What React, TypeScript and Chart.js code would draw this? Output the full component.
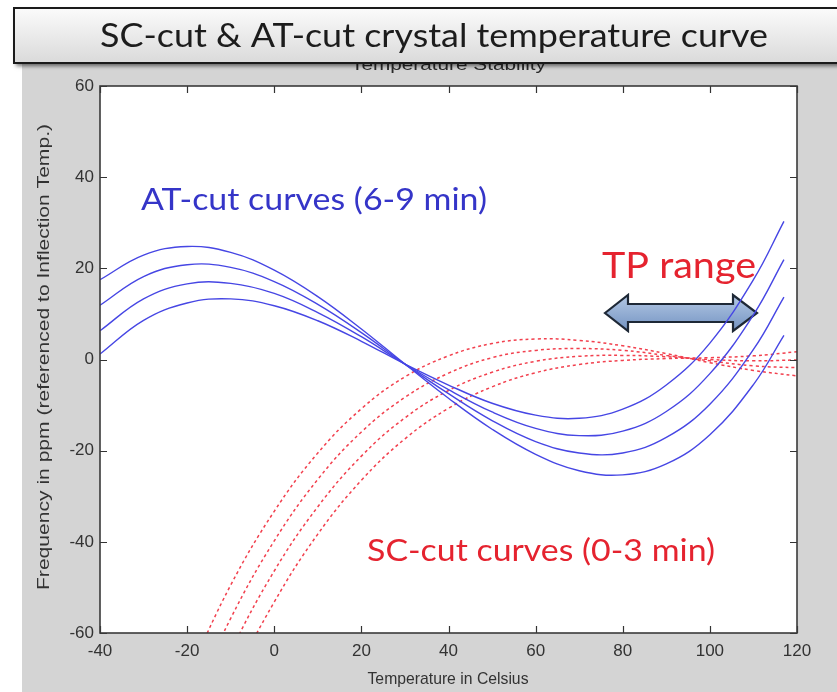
import React, { useEffect, useRef } from "react";
import { Chart, registerables } from "chart.js";

Chart.register(...registerables);

// ---------- data ----------
const tempAT = [-40, -30, -20, -10, 0, 10, 20, 30, 40, 50, 60, 70, 80, 90, 100, 110, 117];
const atCurve1 = [17.5, 22.9, 24.8, 23.5, 19.6, 13.8, 6.7, -1, -8.5, -15.3, -20.8, -24.4, -25.3, -22.9, -16.5, -5.5, 5.3];
const atCurve2 = [11.9, 18.2, 20.8, 20.2, 17.1, 12.1, 5.9, -1, -7.5, -13.4, -18.0, -20.5, -20.5, -17.1, -9.8, 2.2, 13.7];
const atCurve3 = [6.3, 13.3, 16.6, 16.7, 14.5, 10.3, 5.0, -1, -6.6, -11.5, -15.1, -16.7, -15.7, -11.4, -3.1, 9.8, 21.9];
const atCurve4 = [1.2, 8.6, 12.4, 13.3, 11.8, 8.5, 4.0, -1, -5.6, -9.6, -12.2, -12.9, -10.9, -5.6, 3.6, 17.5, 30.3];

const tempSC = [-20, -10, 0, 10, 20, 30, 40, 50, 60, 70, 80, 90, 100, 110, 120];
const scCurve1 = [-69.6, -49.5, -33.3, -20.5, -10.8, -3.8, 0.8, 3.5, 4.5, 4.2, 3.0, 1.3, -0.7, -2.4, -3.6];
const scCurve2 = [-77.5, -56.8, -39.8, -26.3, -15.9, -8.3, -3.0, 0.4, 2.0, 2.4, 2.0, 0.9, -0.3, -1.4, -1.8];
const scCurve3 = [-85.5, -64.1, -46.4, -32.3, -21.2, -12.8, -6.8, -2.8, -0.4, 0.7, 0.9, 0.6, 0.0, -0.3, -0.1];
const scCurve4 = [-93.6, -71.5, -53.2, -38.3, -26.5, -17.4, -10.7, -6.0, -2.9, -1.1, -0.2, 0.2, 0.4, 0.8, 1.7];

const xMin = -40;
const xMax = 120;
const xStep = 20;
const yMin = -60;
const yMax = 60;
const yStep = 20;

const titleText = "SC-cut & AT-cut crystal temperature curve";
const hiddenTitle = "Temperature Stability";
const xTitle = "Temperature in Celsius";
const yTitle = "Frequency in ppm (referenced to Inflection Temp.)";
const atLabel = "AT-cut curves (6-9 min)";
const scLabel = "SC-cut curves (0-3 min)";
const tpLabel = "TP range";

// ---------- layout ----------
const W = 837;
const H = 692;
const PLOT_LEFT = 100;
const PLOT_TOP = 86;
const PLOT_RIGHT = 797;
const PLOT_BOTTOM = 633;
const GRAY_LEFT = 22;
const GRAY_TOP = 56;

const BLUE = "#4646e4";
const RED = "#f2404e";
const TEXT_BLUE = "#3535c8";
const TEXT_RED = "#e5232f";
const AXIS_FONT = '"Liberation Sans", Arial, sans-serif';
const NOTE_FONT = 'Lato, "Open Sans", sans-serif';

function fitText(
  ctx: CanvasRenderingContext2D,
  text: string,
  x: number,
  y: number,
  width: number,
  font: string,
  color: string,
  align: "left" | "center" = "left"
) {
  ctx.save();
  ctx.font = font;
  ctx.fillStyle = color;
  ctx.textBaseline = "alphabetic";
  ctx.textAlign = align;
  const m = ctx.measureText(text).width;
  const sx = width / m;
  ctx.translate(x, y);
  ctx.scale(sx, 1);
  ctx.fillText(text, 0, 0);
  ctx.restore();
}

export default function App() {
  const ref = useRef<HTMLCanvasElement | null>(null);

  useEffect(() => {
    const canvas = ref.current;
    if (!canvas) return;
    const mk = (xs: number[], ys: number[]) => xs.map((x, i) => ({ x, y: ys[i] }));

    const atSets = [atCurve1, atCurve2, atCurve3, atCurve4].map((ys, i) => ({
      label: `AT-cut ${i + 1}`,
      data: mk(tempAT, ys),
      borderColor: BLUE,
      borderWidth: 1.4,
      pointRadius: 0,
      tension: 0.4,
      fill: false,
    }));
    const scSets = [scCurve1, scCurve2, scCurve3, scCurve4].map((ys, i) => ({
      label: `SC-cut ${i + 1}`,
      data: mk(tempSC, ys),
      borderColor: RED,
      borderWidth: 1.5,
      borderDash: [3, 3],
      pointRadius: 0,
      tension: 0.4,
      fill: false,
    }));

    const decor = {
      id: "decor",
      beforeDraw(chart: any) {
        const ctx = chart.ctx as CanvasRenderingContext2D;
        const a = chart.chartArea;
        ctx.save();
        ctx.fillStyle = "#ffffff";
        ctx.fillRect(0, 0, W, H);
        ctx.fillStyle = "#d4d4d4";
        ctx.fillRect(GRAY_LEFT, GRAY_TOP, W - GRAY_LEFT, H - GRAY_TOP);
        ctx.fillStyle = "#ffffff";
        ctx.fillRect(a.left, a.top, a.right - a.left, a.bottom - a.top);
        ctx.restore();
        // remnant of the original MATLAB title (mostly hidden by the banner)
        fitText(ctx, hiddenTitle, (a.left + a.right) / 2, 70, 195, `17px ${AXIS_FONT}`, "#2a2a2a", "center");
      },
      beforeDatasetsDraw(chart: any) {
        const ctx = chart.ctx as CanvasRenderingContext2D;
        // double-headed TP range arrow
        const cy = 313;
        const l = 605, lh = 628, rh = 733, r = 757;
        const hh = 18, sh = 9;
        ctx.save();
        ctx.beginPath();
        ctx.moveTo(l, cy);
        ctx.lineTo(lh, cy - hh);
        ctx.lineTo(lh, cy - sh);
        ctx.lineTo(rh, cy - sh);
        ctx.lineTo(rh, cy - hh);
        ctx.lineTo(r, cy);
        ctx.lineTo(rh, cy + hh);
        ctx.lineTo(rh, cy + sh);
        ctx.lineTo(lh, cy + sh);
        ctx.lineTo(lh, cy + hh);
        ctx.closePath();
        const g = ctx.createLinearGradient(0, cy - hh, 0, cy + hh);
        g.addColorStop(0, "#b4c8e4");
        g.addColorStop(1, "#7393c2");
        ctx.fillStyle = g;
        ctx.fill();
        ctx.lineWidth = 2.2;
        ctx.lineJoin = "miter";
        ctx.strokeStyle = "#1e2836";
        ctx.stroke();
        ctx.restore();
      },
      afterDatasetsDraw(chart: any) {
        const ctx = chart.ctx as CanvasRenderingContext2D;
        fitText(ctx, atLabel, 141, 210, 346, `30px ${NOTE_FONT}`, TEXT_BLUE);
        fitText(ctx, tpLabel, 602, 278, 154, `37px ${NOTE_FONT}`, TEXT_RED);
        fitText(ctx, scLabel, 367, 561, 348, `30px ${NOTE_FONT}`, TEXT_RED);
      },
      afterDraw(chart: any) {
        const ctx = chart.ctx as CanvasRenderingContext2D;
        const a = chart.chartArea;
        const xs = chart.scales.x;
        const ys = chart.scales.y;
        ctx.save();
        // inward tick marks on all four sides
        ctx.strokeStyle = "#333333";
        ctx.lineWidth = 1.2;
        const tl = 7;
        ctx.beginPath();
        xs.ticks.forEach((t: any) => {
          const px = Math.round(xs.getPixelForValue(t.value)) + 0.5;
          ctx.moveTo(px, a.bottom);
          ctx.lineTo(px, a.bottom - tl);
          ctx.moveTo(px, a.top);
          ctx.lineTo(px, a.top + tl);
        });
        ys.ticks.forEach((t: any) => {
          const py = Math.round(ys.getPixelForValue(t.value)) + 0.5;
          ctx.moveTo(a.left, py);
          ctx.lineTo(a.left + tl, py);
          ctx.moveTo(a.right, py);
          ctx.lineTo(a.right - tl, py);
        });
        ctx.stroke();
        // axes box
        ctx.lineWidth = 1.6;
        ctx.strokeStyle = "#3a3a3a";
        ctx.strokeRect(a.left, a.top, a.right - a.left, a.bottom - a.top);
        ctx.restore();

        // axis titles
        fitText(ctx, xTitle, 448, 684, 161, `17px ${AXIS_FONT}`, "#333333", "center");
        ctx.save();
        ctx.translate(49, 357);
        ctx.rotate(-Math.PI / 2);
        fitText(ctx, yTitle, 0, 0, 466, `17px ${AXIS_FONT}`, "#333333", "center");
        ctx.restore();

        // title banner
        ctx.save();
        const bx = 14, by = 8, bw = W + 10, bh = 55;
        ctx.shadowColor = "rgba(0,0,0,0.55)";
        ctx.shadowBlur = 4;
        ctx.shadowOffsetX = 2;
        ctx.shadowOffsetY = 3;
        const g = ctx.createLinearGradient(0, by, 0, by + bh);
        g.addColorStop(0, "#fbfbfb");
        g.addColorStop(1, "#dadada");
        ctx.fillStyle = g;
        ctx.fillRect(bx, by, bw, bh);
        ctx.shadowColor = "transparent";
        ctx.lineWidth = 2;
        ctx.strokeStyle = "#1a1a1a";
        ctx.strokeRect(bx, by, bw, bh);
        ctx.restore();
        fitText(ctx, titleText, 100, 47, 668, `33px ${NOTE_FONT}`, "#1c1c1c");
      },
    };

    const tickFont = { family: AXIS_FONT, size: 17 };
    const chart = new Chart(canvas, {
      type: "line",
      data: { datasets: [...atSets, ...scSets] as any },
      options: {
        responsive: false,
        animation: false,
        devicePixelRatio: 1,
        layout: {
          padding: { left: GRAY_LEFT, right: W - PLOT_RIGHT, top: PLOT_TOP, bottom: 0 },
        },
        plugins: {
          legend: { display: false },
          tooltip: { enabled: false },
          title: { display: false },
        },
        scales: {
          x: {
            type: "linear",
            min: xMin,
            max: xMax,
            ticks: { stepSize: xStep, padding: 8, color: "#333333", font: tickFont, maxRotation: 0 },
            grid: { display: false, drawTicks: false },
            border: { display: false },
            afterFit(s: any) {
              s.height = H - PLOT_BOTTOM;
            },
          },
          y: {
            type: "linear",
            min: yMin,
            max: yMax,
            ticks: { stepSize: yStep, padding: 6, color: "#333333", font: tickFont },
            grid: { display: false, drawTicks: false },
            border: { display: false },
            afterFit(s: any) {
              s.width = PLOT_LEFT - GRAY_LEFT;
            },
          },
        },
      } as any,
      plugins: [decor],
    });
    return () => chart.destroy();
  }, []);

  return (
    <div style={{ position: "fixed", left: 0, top: 0, width: W, height: H, background: "#ffffff" }}>
      <canvas ref={ref} width={W} height={H} style={{ display: "block", width: W, height: H }} />
    </div>
  );
}
